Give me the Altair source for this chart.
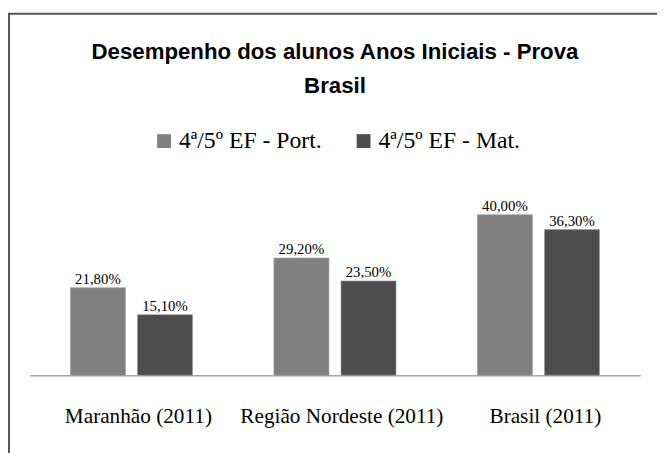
import altair as alt
import pandas as pd

categories = ["Maranhão (2011)", "Região Nordeste (2011)", "Brasil (2011)"]
series = ["4ª/5º EF - Port.", "4ª/5º EF - Mat."]
port_values = [21.8, 29.2, 40.0]
mat_values = [15.1, 23.5, 36.3]
colors = ["#808080", "#4d4d4d"]
title_lines = ["Desempenho dos alunos Anos Iniciais - Prova", "Brasil"]

SERIF = "Liberation Serif, Times New Roman, serif"

rows = []
for c, p, m in zip(categories, port_values, mat_values):
    rows.append({"cat": c, "serie": series[0], "val": p})
    rows.append({"cat": c, "serie": series[1], "val": m})
df = pd.DataFrame(rows)
df["label"] = df["val"].map(lambda v: f"{v:.2f}".replace(".", ",") + "%")

W, H = 618, 184

x_enc = alt.X("cat:N", sort=categories,
              scale=alt.Scale(paddingInner=0.4, paddingOuter=0.2),
              axis=alt.Axis(title=None, ticks=False, grid=False, labelAngle=0,
                            labelFont=SERIF, labelFontSize=21.5, labelLimit=0,
                            labelColor="#000000", labelBaseline="alphabetic",
                            labelPadding=48, labelOffset=7, domainColor="#a6a6a6",
                            domainWidth=1.5))
xoff = alt.XOffset("serie:N", sort=series,
                   scale=alt.Scale(paddingInner=0.18, paddingOuter=0))
y_enc = alt.Y("val:Q", scale=alt.Scale(domain=[0, 45.3], nice=False), axis=None)

bars = alt.Chart(df).mark_bar(stroke="#9a9a9a", strokeWidth=0.6).encode(
    x=x_enc, xOffset=xoff, y=y_enc,
    color=alt.Color("serie:N", sort=series,
                    scale=alt.Scale(domain=series, range=colors),
                    legend=alt.Legend(title=None, orient="none", direction="horizontal",
                                      legendX=124, legendY=-65,
                                      symbolType="square", symbolSize=196,
                                      symbolStrokeWidth=0, labelFont=SERIF,
                                      labelFontSize=24, labelFontWeight="normal",
                                      labelColor="#000000", labelLimit=0,
                                      labelOffset=3, columnPadding=30, padding=0)),
)

labels = alt.Chart(df).mark_text(font=SERIF, fontSize=15, color="#000000",
                                 baseline="alphabetic", dy=-4).encode(
    x=x_enc, xOffset=xoff, y=y_enc, text="label:N")

frame_v = alt.Chart(alt.Data(values=[{}])).mark_rule(color="#555555", strokeWidth=2).encode(
    x=alt.value(-21), y=alt.value(-182), y2=alt.value(300))
frame_h = alt.Chart(alt.Data(values=[{}])).mark_rule(color="#555555", strokeWidth=2).encode(
    x=alt.value(-22), x2=alt.value(700), y=alt.value(-182))

chart = alt.layer(bars, labels, frame_v, frame_h).properties(
    width=W, height=H,
    padding={"left": 22, "top": 185, "right": 17, "bottom": 76},
    autosize=alt.AutoSizeParams(type="none"),
    title=alt.TitleParams(title_lines, anchor="middle", frame="group",
                          font="Liberation Sans, Arial, sans-serif", fontSize=22.5,
                          fontWeight="bold", color="#000000", lineHeight=35,
                          offset=0, dy=86),
).configure(background="#ffffff").configure_view(stroke=None)

chart.save("out.html", embed_options={"renderer": "svg", "actions": False})
